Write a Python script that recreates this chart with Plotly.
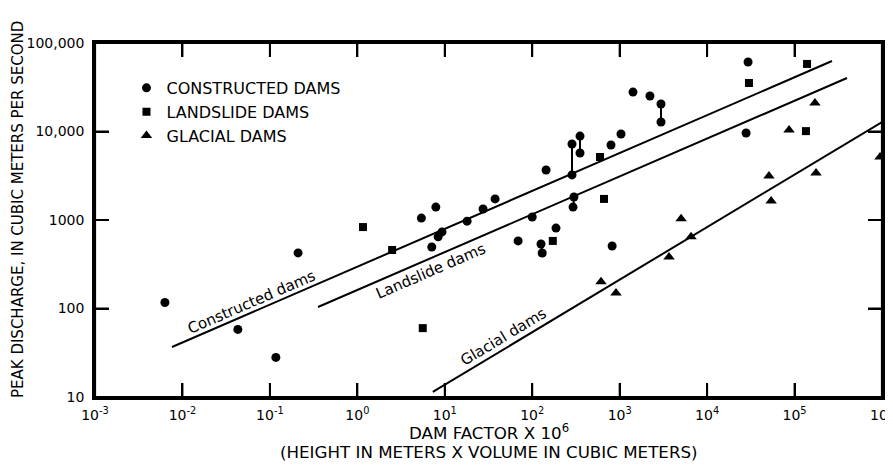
import plotly.graph_objects as go
import numpy as np

# ---- data ----
constructed_x = [0.0063, 0.043, 0.117, 0.21, 5.4, 7.9, 7.1, 8.4, 9.3, 18, 27.4, 37.6, 144,
                 285, 285, 352, 352, 796, 1036, 1420, 2220, 2970, 2970, 100, 300, 293, 187,
                 69, 126, 130, 820, 29400, 27900]
constructed_y = [117, 58, 28, 425, 1050, 1400, 495, 645, 733, 970, 1330, 1730, 3670,
                 7220, 3230, 8880, 5720, 7040, 9370, 27900, 25200, 20460, 12800, 1080, 1820, 1400, 810,
                 580, 535, 424, 508, 61000, 9620]

landslide_x = [1.16, 2.5, 596, 662, 172, 5.6, 139000, 30100, 135000]
landslide_y = [832, 458, 5150, 1730, 580, 60, 58000, 35300, 10100]

glacial_x = [5040, 6550, 3670, 612, 908, 171000, 86500, 950000, 51000, 176000, 54000]
glacial_y = [1030, 645, 382, 200, 150, 21000, 10400, 5150, 3140, 3400, 1640]

# paired (ranges) of constructed dams joined by vertical bars
pair_x = [285, 352, 2970, 298, 128, 8.7]
pair_y_top = [7220, 8880, 20460, 1820, 535, 733]
pair_y_bot = [3230, 5720, 12800, 1400, 424, 645]

# fitted regression lines (end points)
fit_constructed_x = [0.0076, 268000]
fit_constructed_y = [36.7, 62600]
fit_landslide_x = [0.355, 398000]
fit_landslide_y = [104, 40200]
fit_glacial_x = [7.3, 1e6]
fit_glacial_y = [11.4, 12800]

x_tickvals = [1e-3, 1e-2, 1e-1, 1, 10, 100, 1e3, 1e4, 1e5, 1e6]
x_ticktext = ["10<sup>-3</sup>", "10<sup>-2</sup>", "10<sup>-1</sup>", "10<sup>0</sup>",
              "10<sup>1</sup>", "10<sup>2</sup>", "10<sup>3</sup>", "10<sup>4</sup>",
              "10<sup>5</sup>", "10<sup>6</sup>"]
y_tickvals = [10, 100, 1000, 10000, 100000]
y_ticktext = ["10", "100", "1000", "10,000", "100,000"]

FONT = "DejaVu Sans"
# the page body adds an 8px offset; size the figure so the plot lands where the reference has it
OFF = 8
W, H = 893 - OFF, 467 - OFF
ML, MT = 95 - OFF, 43 - OFF
MR = (OFF + W) - 882
MB = (OFF + H) - 397
PW, PH = W - ML - MR, H - MT - MB
TICK = 14

XR = [float(np.log10(x_tickvals[0])), float(np.log10(x_tickvals[-1]))]
YR = [float(np.log10(y_tickvals[0])), float(np.log10(y_tickvals[-1]))]
xmin, xmax = x_tickvals[0], x_tickvals[-1]
ymin, ymax = y_tickvals[0], y_tickvals[-1]
# pixel -> multiplicative factor on the log axes
fy = lambda px: 10 ** (px / PH * (YR[1] - YR[0]))
fx = lambda px: 10 ** (px / PW * (XR[1] - XR[0]))

fig = go.Figure()

# tick marks as short segments starting just inside the frame
kx, ky = [], []
for tv in x_tickvals[1:-1]:
    kx += [tv, tv, None, tv, tv, None]
    ky += [ymin * fy(1), ymin * fy(TICK), None, ymax / fy(1), ymax / fy(TICK), None]
for tv in y_tickvals[1:-1]:
    kx += [xmin * fx(1), xmin * fx(TICK), None, xmax / fx(1), xmax / fx(TICK), None]
    ky += [tv, tv, None, tv, tv, None]
fig.add_trace(go.Scatter(x=kx, y=ky, mode="lines", line=dict(color="black", width=2),
                         showlegend=False, hoverinfo="skip"))

# vertical connectors
cx, cy = [], []
for x, t, b in zip(pair_x, pair_y_top, pair_y_bot):
    cx += [x, x, None]
    cy += [t, b, None]
fig.add_trace(go.Scatter(x=cx, y=cy, mode="lines", line=dict(color="black", width=2),
                         showlegend=False, hoverinfo="skip"))

for lx_, ly_ in [(fit_constructed_x, fit_constructed_y),
                 (fit_landslide_x, fit_landslide_y),
                 (fit_glacial_x, fit_glacial_y)]:
    fig.add_trace(go.Scatter(x=lx_, y=ly_, mode="lines", line=dict(color="black", width=2),
                             showlegend=False, hoverinfo="skip"))

fig.add_trace(go.Scatter(x=constructed_x, y=constructed_y, mode="markers",
                         name="CONSTRUCTED DAMS",
                         marker=dict(symbol="circle", size=9, color="black")))
fig.add_trace(go.Scatter(x=landslide_x, y=landslide_y, mode="markers",
                         name="LANDSLIDE DAMS",
                         marker=dict(symbol="square", size=8, color="black")))
fig.add_trace(go.Scatter(x=glacial_x, y=glacial_y, mode="markers",
                         name="GLACIAL DAMS",
                         marker=dict(symbol="triangle-up", size=10, color="black")))


def line_y(fxs, fys, xq):
    lx = np.log10(fxs)
    ly = np.log10(fys)
    return float(ly[0] + (ly[1] - ly[0]) * (xq - lx[0]) / (lx[1] - lx[0]))


labels = [
    ("Constructed dams", fit_constructed_x, fit_constructed_y, -1.205, 10, -23.4),
    ("Landslide dams", fit_landslide_x, fit_landslide_y, 0.843, -13, -23.4),
    ("Glacial dams", fit_glacial_x, fit_glacial_y, 1.666, 13, -31.1),
]
for text, fxs, fys, xq, shift, ang in labels:
    fig.add_annotation(x=xq, y=line_y(fxs, fys, xq), text=text, showarrow=False,
                       textangle=ang, yshift=shift, xref="x", yref="y",
                       font=dict(family=FONT, size=15, color="black"))

axis_common = dict(showline=True, linewidth=2.5, linecolor="black", mirror="allticks",
                   ticks="inside", ticklen=TICK, tickwidth=2, tickcolor="black",
                   showgrid=False, zeroline=False, automargin=False,
                   ticklabeloverflow="allow",
                   tickfont=dict(family=FONT, size=14, color="black"))

fig.update_xaxes(type="log", range=XR, tickvals=x_tickvals, ticktext=x_ticktext,
                 ticklabelstandoff=3, **axis_common)
fig.update_yaxes(type="log", range=YR, tickvals=y_tickvals, ticktext=y_ticktext,
                 ticklabelstandoff=5, **axis_common)

# frame
fig.add_shape(type="rect", xref="paper", yref="paper", x0=0, y0=0, x1=1, y1=1,
              line=dict(color="black", width=2.2), layer="above")

# axis titles
fig.add_annotation(xref="paper", yref="paper", x=0, y=1 - (210 - 43) / PH, xshift=-(95 - 18),
                   text="PEAK DISCHARGE, IN CUBIC METERS PER SECOND", textangle=-90,
                   showarrow=False, xanchor="center", yanchor="middle",
                   font=dict(family=FONT, size=15, color="black"))
fig.add_annotation(xref="paper", yref="paper", x=0.5, y=0, yshift=-35,
                   text="DAM FACTOR X 10<sup>6</sup>", showarrow=False,
                   xanchor="center", yanchor="middle",
                   font=dict(family=FONT, size=16.7, color="black"))
fig.add_annotation(xref="paper", yref="paper", x=0.5, y=0, yshift=-55,
                   text="(HEIGHT IN METERS X VOLUME IN CUBIC METERS)", showarrow=False,
                   xanchor="center", yanchor="middle",
                   font=dict(family=FONT, size=16.7, color="black"))

fig.update_layout(
    width=W, height=H,
    margin=dict(l=ML, r=MR, t=MT, b=MB, autoexpand=False),
    paper_bgcolor="white", plot_bgcolor="white",
    font=dict(family=FONT, color="black"),
    legend=dict(x=0.040, y=0.921, xanchor="left", yanchor="top",
                bgcolor="rgba(0,0,0,0)", font=dict(family=FONT, size=16, color="black"),
                tracegroupgap=0),
)

fig.write_html("out.html")
